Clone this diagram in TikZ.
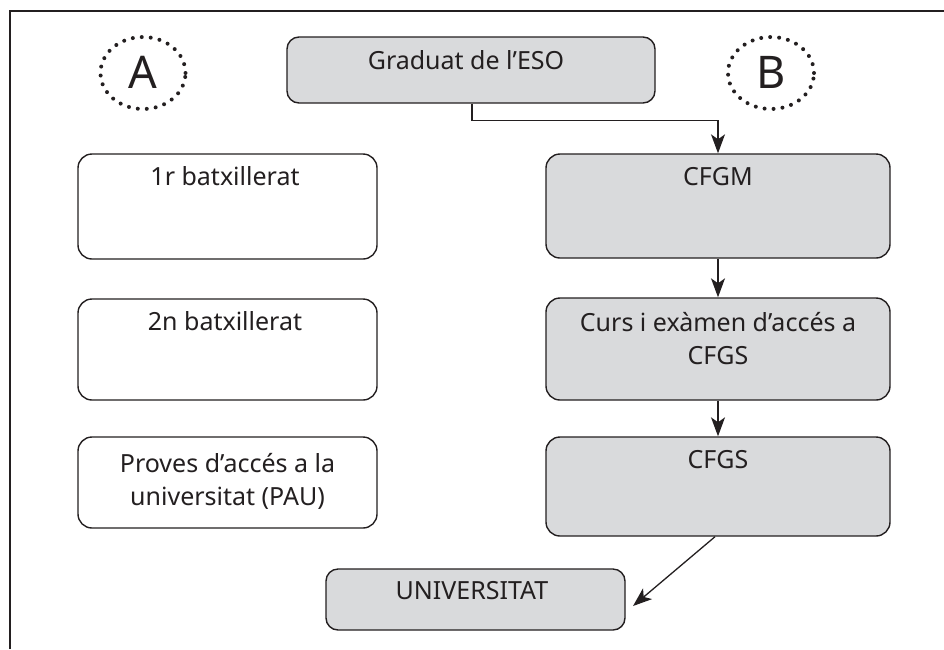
\documentclass[tikz,border=0pt]{standalone}
\usepackage{fontspec}
\setmainfont{Noto Sans}
\usetikzlibrary{arrows.meta,shapes.geometric}
\definecolor{boxgray}{HTML}{D9DADC}
\definecolor{ink}{HTML}{231F20}
\begin{document}
\begin{tikzpicture}[x=1pt,y=-1pt,
  boxbase/.style={draw=ink, line width=1.4pt, rounded corners=14pt, inner sep=0pt},
  whitebox/.style={boxbase, fill=white},
  graybox/.style={boxbase, fill=boxgray},
  lbl/.style={font=\fontsize{25}{33}\selectfont, text=ink, inner sep=0pt, anchor=base, align=center},
  conn/.style={draw=ink, line width=1.3pt, -{Stealth[length=19pt,width=14pt,inset=5pt]}},
  dotring/.style={draw=ink, line width=4pt, line cap=round, dash pattern=on 0pt off 9pt},
  big/.style={font=\fontsize{45}{45}\selectfont, text=ink, inner sep=0pt}
]
\useasboundingbox (0,0) rectangle (944,649);
% frame
\draw[ink, line width=2pt] (10,649) -- (10,11) -- (944,11);

% circled letters
\node[dotring, ellipse, inner sep=0pt, minimum width=85pt, minimum height=72pt] (ringA) at (143,73) {};
\node[big] (letA) at (143,72) {A};
\node[dotring, ellipse, inner sep=0pt, minimum width=86pt, minimum height=72pt] (ringB) at (771,73) {};
\node[big] (letB) at (771,72) {B};

% boxes
\node[graybox, rounded corners=12pt, minimum width=368pt, minimum height=66pt] (grad) at (471,70) {};
\node[lbl] (gradt) at (466,69) {Graduat de l’ESO};

\node[whitebox, minimum width=299pt, minimum height=105pt] (b1) at (227.5,206.5) {};
\node[lbl] (b1t) at (225,185) {1r batxillerat};
\node[whitebox, minimum width=299pt, minimum height=101pt] (b2) at (227.5,349.5) {};
\node[lbl] (b2t) at (225,330) {2n batxillerat};
\node[whitebox, minimum width=299pt, minimum height=91pt] (pau) at (227.5,482.5) {};
\node[lbl] (paut) at (227.5,505) {Proves d’accés a la\\universitat (PAU)};

\node[graybox, minimum width=344pt, minimum height=104pt] (cfgm) at (718,206) {};
\node[lbl] (cfgmt) at (718,185) {CFGM};
\node[graybox, minimum width=344pt, minimum height=102pt] (curs) at (718,349) {};
\node[lbl] (curst) at (718,364) {Curs i exàmen d’accés a\\CFGS};
\node[graybox, minimum width=344pt, minimum height=99pt] (cfgs) at (718,486.5) {};
\node[lbl] (cfgst) at (718,468) {CFGS};

\node[graybox, rounded corners=12pt, minimum width=299pt, minimum height=61pt] (univ) at (475.5,599.5) {};
\node[lbl] (univt) at (472,599) {UNIVERSITAT};

% connectors
\coordinate (utip) at (633,606);
\draw[conn] ([xshift=1pt]grad.south) -- ++(0,17) -| (cfgm.north);
\draw[conn] (cfgm.south) -- (curs.north);
\draw[conn] (curs.south) -- (cfgs.north);
\draw[conn] ([xshift=-3pt]cfgs.south) -- (utip);
\end{tikzpicture}
\end{document}
